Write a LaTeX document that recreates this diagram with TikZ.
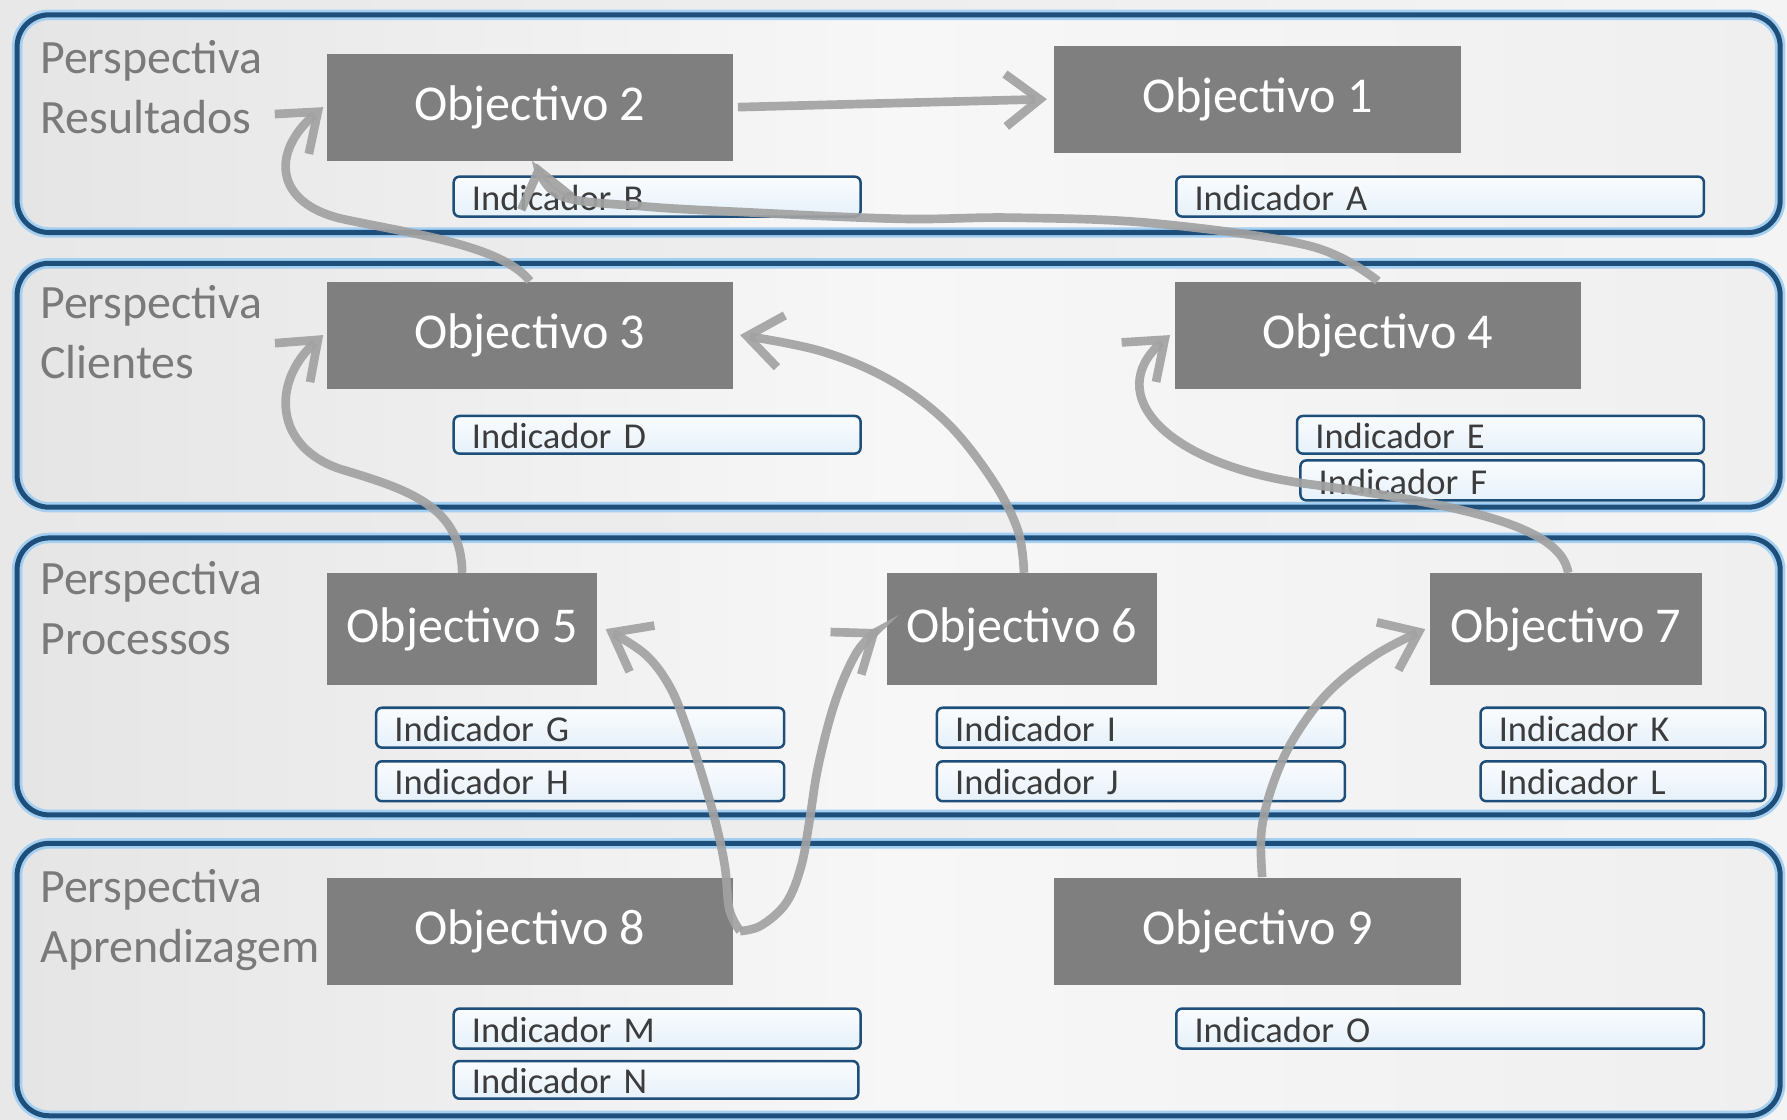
\documentclass[tikz,border=0pt]{standalone}
\usepackage{fontspec}
\setmainfont{Carlito}
\usetikzlibrary{arrows.meta}

\definecolor{lanedark}{RGB}{30,78,122}
\definecolor{lanehalo}{RGB}{165,207,240}
\definecolor{laneL}{RGB}{229,229,229}
\definecolor{laneM}{RGB}{247,247,247}
\definecolor{laneR}{RGB}{239,239,239}
\definecolor{bgL}{RGB}{232,232,232}
\definecolor{bgR}{RGB}{244,244,244}
\definecolor{objgray}{RGB}{127,127,127}
\definecolor{labelgray}{RGB}{122,122,122}
\definecolor{indtext}{RGB}{60,60,60}
\definecolor{indtop}{RGB}{250,252,254}
\definecolor{indbot}{RGB}{230,241,250}
\definecolor{flowgray}{RGB}{162,162,162}

\newfontfamily\uifont{Carlito}

\tikzset{
  lanefill/.style={left color=laneL, right color=laneR, middle color=laneM, rounded corners=14pt},
  lanehaloline/.style={draw=lanehalo, line width=4.6pt, rounded corners=14pt},
  laneline/.style={draw=lanedark, line width=2.2pt, rounded corners=14pt},
  objbox/.style={fill=objgray, text=white, inner sep=0pt,
    font=\uifont\fontsize{22pt}{26pt}\selectfont},
  indbox/.style={draw=lanedark, line width=1.1pt, rounded corners=2.5pt,
    top color=indtop, bottom color=indbot, anchor=west, align=left,
    inner xsep=8pt, inner ysep=0pt, text height=13.5pt, text depth=1.5pt,
    text=indtext, font=\uifont\fontsize{16pt}{19pt}\selectfont, text width=#1},
  persp/.style={anchor=north west, inner sep=0pt, align=left, text=labelgray,
    font=\uifont\fontsize{21pt}{26.5pt}\selectfont},
  flow/.style={draw=flowgray, draw opacity=0.92, line width=3.8pt,
    -{Straight Barb[length=15pt,width=23pt]}},
}

\begin{document}
\begin{tikzpicture}[x=0.5pt, y=-0.5pt]
\useasboundingbox (0,0) rectangle (1568,982);
\fill[left color=bgL, right color=bgR] (0,0) rectangle (1568,982);

% four perspective lanes
\foreach \ya/\yb in {13/204, 231/445, 472/715, 740/979} {
  \path[lanefill] (15,\ya) rectangle (1562,\yb);
  \draw[lanehaloline] (15,\ya) rectangle (1562,\yb);
  \draw[laneline] (15,\ya) rectangle (1562,\yb);
}

% lane titles
\node[persp] (p1) at (35,35)  {Perspectiva\\Resultados};
\node[persp] (p2) at (35,250) {Perspectiva\\Clientes};
\node[persp] (p3) at (35,492) {Perspectiva\\Processos};
\node[persp] (p4) at (35,762) {Perspectiva\\Aprendizagem};

% objectives
\node[objbox, minimum width=178pt,   minimum height=47pt] (o2) at (465,94)    {Objectivo 2};
\node[objbox, minimum width=178.5pt, minimum height=47pt] (o1) at (1103.5,87) {Objectivo 1};
\node[objbox, minimum width=178pt,   minimum height=47pt] (o3) at (465,294)   {Objectivo 3};
\node[objbox, minimum width=178pt,   minimum height=47pt] (o4) at (1209,294)  {Objectivo 4};
\node[objbox, minimum width=118.5pt, minimum height=49pt] (o5) at (405.5,552) {Objectivo 5};
\node[objbox, minimum width=118.5pt, minimum height=49pt] (o6) at (896.5,552) {Objectivo 6};
\node[objbox, minimum width=119pt,   minimum height=49pt] (o7) at (1374,552)  {Objectivo 7};
\node[objbox, minimum width=178pt,   minimum height=47pt] (o8) at (465,817)   {Objectivo 8};
\node[objbox, minimum width=178.5pt, minimum height=47pt] (o9) at (1103.5,817) {Objectivo 9};

% indicators
\node[indbox=162.5pt, minimum height=17.5pt] (iB) at (397,172.5)  {Indicador B};
\node[indbox=215.5pt, minimum height=17.5pt] (iA) at (1031,172.5) {Indicador A};
\node[indbox=162.5pt, minimum height=16.5pt] (iD) at (397,381.5)  {Indicador D};
\node[indbox=162.5pt, minimum height=16.5pt] (iE) at (1137,381.5) {Indicador E};
\node[indbox=161pt,   minimum height=17.5pt] (iF) at (1140,421.5) {Indicador F};
\node[indbox=163pt,   minimum height=17.5pt] (iG) at (329,638.5)  {Indicador G};
\node[indbox=163pt,   minimum height=17.5pt] (iH) at (329,685.5)  {Indicador H};
\node[indbox=163pt,   minimum height=17.5pt] (iI) at (821,638.5)  {Indicador I};
\node[indbox=163pt,   minimum height=17.5pt] (iJ) at (821,685.5)  {Indicador J};
\node[indbox=109pt,   minimum height=17.5pt] (iK) at (1298,638.5) {Indicador K};
\node[indbox=109pt,   minimum height=17.5pt] (iL) at (1298,685.5) {Indicador L};
\node[indbox=162.5pt, minimum height=17.5pt] (iM) at (397,902.5)  {Indicador M};
\node[indbox=161.5pt, minimum height=16.5pt] (iN) at (397,947.5)  {Indicador N};
\node[indbox=215.5pt, minimum height=17.5pt] (iO) at (1031,902.5) {Indicador O};

% cause-and-effect links
\draw[flow] ([xshift=2pt]o2.east) -- ([xshift=-3pt]o1.west);
\draw[flow] (o3.north) .. controls (440,215) and (360,205) .. (300,192)
                       .. controls (240,178) and (238,133) .. ([xshift=-1.5pt]o2.west);
\draw[flow] plot[smooth, tension=0.6] coordinates {(o4.north) (1150,216) (1013,196) (889,191) (790,192) (650,186) (564,181) (492,172) ([xshift=3pt,yshift=-1pt]o2.south)};
\draw[flow] (o5.north) .. controls (405,445) and (360,430) .. (300,412)
                       .. controls (240,393) and (238,335) .. ([xshift=-1.5pt]o3.west);
\draw[flow] plot[smooth, tension=0.6] coordinates {([xshift=1pt]o6.north) (893,465) (870,420) (830,370) (780,333) (720,308) ([xshift=3pt]o3.east)};
\draw[flow] ([xshift=1pt]o7.north) .. controls (1370,465) and (1300,445) .. (1150,425)
                       .. controls (1020,408) and (968,345) .. ([xshift=-2pt]o4.west);
\draw[flow] plot[smooth, tension=0.6] coordinates {([xshift=3pt]o8.east) (640,798) (636,760) (628,722) (616,680) (603,640) (588,603) (566,574) ([xshift=3.5pt]o5.east)};
\draw[flow] plot[smooth, tension=0.6] coordinates {([xshift=3pt]o8.east) (668,812) (690,792) (703,760) (710,722) (718,672) (733,615) (752,572) ([xshift=-3pt]o6.west)};
\draw[flow] plot[smooth, tension=0.6] coordinates {([xshift=2pt]o9.north) (1107,728) (1118,685) (1137,645) (1167,606) (1208,574) ([xshift=-2pt]o7.west)};
\end{tikzpicture}
\end{document}
